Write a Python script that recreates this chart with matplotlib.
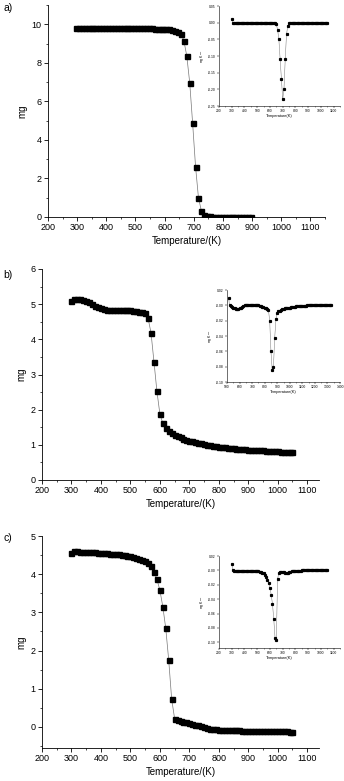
import matplotlib
matplotlib.use("Agg")
import matplotlib.pyplot as plt
from matplotlib.ticker import MultipleLocator, FormatStrFormatter

plt.rcParams['font.family'] = ['Liberation Sans', 'DejaVu Sans']

# ---- data ----
# a) main TG curve
temp_a = list(range(296, 897, 10))
mass_a = [9.80, 9.82, 9.83, 9.83, 9.83, 9.83, 9.83, 9.83, 9.83, 9.82,
          9.82, 9.82, 9.82, 9.82, 9.82, 9.81, 9.81, 9.81, 9.81, 9.81,
          9.80, 9.80, 9.80, 9.80, 9.79, 9.79, 9.79, 9.78, 9.78, 9.77,
          9.76, 9.75, 9.73, 9.71, 9.67, 9.61, 9.50, 9.15, 8.35, 6.97,
          4.87, 2.62, 1.00, 0.32, 0.12, 0.05, 0.03, 0.02, 0.01, 0.01,
          0.00, 0.00, 0.00, -0.01, -0.01, -0.01, -0.01, -0.02, -0.02, -0.02,
          -0.02]
# a) inset DTG
dtemp_a = list(range(300, 1051, 10))
dtg_a = [0.010, 0.000, 0.000, 0.000, 0.000, 0.000, 0.000, 0.000, 0.000, 0.000,
         0.000, 0.000, 0.000, 0.000, 0.000, 0.000, 0.000, 0.000, 0.000, 0.000,
         0.000, 0.000, 0.000, 0.000, 0.000, 0.000, 0.000, 0.000, 0.000, 0.000,
         0.000, 0.000, 0.000, 0.000, -0.002, -0.005, -0.021, -0.050, -0.110, -0.168,
         -0.230, -0.200, -0.110, -0.035, -0.010, -0.002, 0.000, 0.000, 0.000, 0.000,
         0.000, 0.000, 0.000, 0.000, 0.000, 0.000, 0.000, 0.000, 0.000, 0.000,
         0.000, 0.000, 0.000, 0.000, 0.000, 0.000, 0.000, 0.000, 0.000, 0.000,
         0.000, 0.000, 0.000, 0.000, 0.000, 0.000]

# b) main TG curve
temp_b = list(range(300, 1051, 10))
mass_b = [5.10, 5.15, 5.16, 5.15, 5.13, 5.10, 5.06, 5.01, 4.96, 4.92,
          4.88, 4.85, 4.83, 4.82, 4.82, 4.82, 4.82, 4.82, 4.82, 4.82,
          4.82, 4.81, 4.80, 4.79, 4.77, 4.74, 4.60, 4.18, 3.36, 2.52,
          1.88, 1.61, 1.48, 1.40, 1.34, 1.29, 1.25, 1.21, 1.18, 1.15,
          1.12, 1.10, 1.08, 1.06, 1.04, 1.02, 1.00, 0.99, 0.97, 0.96,
          0.95, 0.94, 0.93, 0.92, 0.91, 0.90, 0.89, 0.88, 0.88, 0.87,
          0.86, 0.86, 0.85, 0.85, 0.84, 0.84, 0.83, 0.83, 0.82, 0.82,
          0.82, 0.81, 0.81, 0.81, 0.80, 0.80]
# b) inset DTG
dtemp_b = [513] + list(range(520, 1331, 10))
dtg_b = [0.0096,
         0.000, -0.001, -0.002, -0.003, -0.004, -0.005, -0.005, -0.005, -0.004, -0.003,
         -0.002, -0.001, 0.000, 0.000, 0.000, 0.000, 0.000, 0.000, 0.000, 0.000,
         0.000, 0.000, 0.000, 0.000, -0.001, -0.001, -0.002, -0.002, -0.003, -0.004,
         -0.005, -0.006, -0.020, -0.060, -0.084, -0.080, -0.042, -0.018, -0.010, -0.008,
         -0.007, -0.006, -0.005, -0.005, -0.004, -0.004, -0.003, -0.003, -0.003, -0.002,
         -0.002, -0.002, -0.002, -0.001, -0.001, -0.001, -0.001, -0.001, -0.001, -0.001,
         -0.001, -0.001, 0.000, 0.000, 0.000, 0.000, 0.000, 0.000, 0.000, 0.000,
         0.000, 0.000, 0.000, 0.000, 0.000, 0.000, 0.000, 0.000, 0.000, 0.000,
         0.000, 0.000]

# c) main TG curve
temp_c = list(range(300, 1051, 10))
mass_c = [4.55, 4.60, 4.60, 4.59, 4.59, 4.58, 4.58, 4.57, 4.57, 4.56,
          4.56, 4.55, 4.55, 4.54, 4.53, 4.53, 4.52, 4.51, 4.50, 4.48,
          4.47, 4.45, 4.43, 4.41, 4.38, 4.34, 4.29, 4.21, 4.06, 3.87,
          3.58, 3.15, 2.58, 1.75, 0.73, 0.22, 0.17, 0.15, 0.13, 0.12,
          0.10, 0.08, 0.06, 0.04, 0.02, 0.00, -0.02, -0.04, -0.05, -0.06,
          -0.07, -0.07, -0.08, -0.08, -0.09, -0.09, -0.09, -0.09, -0.10, -0.10,
          -0.10, -0.10, -0.10, -0.10, -0.10, -0.10, -0.10, -0.11, -0.11, -0.11,
          -0.11, -0.11, -0.11, -0.11, -0.12, -0.12]
# c) inset DTG
dtemp_c = list(range(300, 1051, 10))
dtg_c = [0.009, 0.000, -0.001, -0.001, -0.001, -0.001, -0.001, -0.001, -0.001, -0.001,
         -0.001, -0.001, -0.001, -0.001, -0.001, -0.001, -0.001, -0.001, -0.001, -0.001,
         -0.001, -0.001, -0.002, -0.002, -0.003, -0.004, -0.006, -0.009, -0.013, -0.017,
         -0.024, -0.034, -0.047, -0.068, -0.094, -0.097, -0.012, -0.003, -0.002, -0.002,
         -0.002, -0.002, -0.003, -0.004, -0.003, -0.002, -0.002, -0.001, -0.001, -0.001,
         -0.001, -0.001, -0.001, -0.001, -0.001, 0.000, 0.000, 0.000, 0.000, 0.000,
         0.000, 0.000, 0.000, 0.000, 0.000, 0.000, 0.000, 0.000, 0.000, 0.000,
         0.000, 0.000, 0.000, 0.000, 0.000, 0.000]

W, H = 344, 781
fig = plt.figure(figsize=(W / 100, H / 100), dpi=100)


def rect(l, t, r, b):
    # pixel box -> figure fraction
    return [l / W, 1 - b / H, (r - l) / W, (b - t) / H]


def style(ax, fs, tl):
    for s in ['top', 'right']:
        ax.spines[s].set_visible(False)
    for s in ['left', 'bottom']:
        ax.spines[s].set_linewidth(0.6)
    ax.tick_params(which='major', direction='out', length=tl, width=0.6, labelsize=fs, pad=1.5)
    ax.tick_params(which='minor', direction='out', length=tl * 0.55, width=0.5)


def main_panel(box, x, y, ylim, ymaj, xlim, tag, tag_y):
    ax = fig.add_axes(rect(*box))
    ax.plot(x, y, color='#777777', lw=0.5, marker='s', ms=3.6,
            mfc='black', mec='black', zorder=3)
    ax.set_xlim(*xlim)
    ax.set_ylim(*ylim)
    ax.xaxis.set_major_locator(MultipleLocator(100))
    ax.xaxis.set_minor_locator(MultipleLocator(50))
    ax.yaxis.set_major_locator(MultipleLocator(ymaj))
    ax.yaxis.set_minor_locator(MultipleLocator(ymaj / 2))
    style(ax, 6.5, 3)
    ax.set_xlabel("Temperature/(K)", fontsize=7, labelpad=3)
    ax.set_ylabel("mg", fontsize=7, labelpad=3)
    fig.text(3 / W, 1 - tag_y / H, tag, fontsize=7.5, va='center', ha='left')
    return ax


def inset(box, x, y, xlim, ylim, ymaj, xticks):
    ax = fig.add_axes(rect(*box))
    ax.plot(x, y, color='#777777', lw=0.35, marker='s', ms=1.3,
            mfc='black', mec='black', zorder=3)
    ax.set_xlim(*xlim)
    ax.set_ylim(*ylim)
    ax.set_xticks(xticks)
    ax.xaxis.set_minor_locator(MultipleLocator(50))
    ax.yaxis.set_major_locator(MultipleLocator(ymaj))
    ax.yaxis.set_major_formatter(FormatStrFormatter('%.2f'))
    style(ax, 2.4, 1.2)
    ax.spines['left'].set_linewidth(0.4)
    ax.spines['bottom'].set_linewidth(0.4)
    ax.tick_params(which='both', width=0.35, pad=1)
    ax.set_xlabel("Temperature(K)", fontsize=2.8, labelpad=1)
    ax.set_ylabel("mg K$^{-1}$", fontsize=2.5, labelpad=1)
    return ax


# panel a
main_panel((48, 5, 325, 217), temp_a, mass_a, (0, 11), 2, (200, 1150), "a)", 8)
inset((219, 6, 340, 106), dtemp_a, dtg_a, (200, 1150), (-0.25, 0.05), 0.05,
      list(range(200, 1101, 100)))

# panel b
main_panel((42, 269, 319, 480), temp_b, mass_b, (0, 6), 1, (200, 1140), "b)", 275)
inset((227, 290, 340, 382), dtemp_b, dtg_b, (500, 1400), (-0.10, 0.02), 0.02,
      list(range(500, 1401, 100)))

# panel c
main_panel((42, 536, 319, 748), temp_c, mass_c, (-0.55, 5), 1, (200, 1140), "c)", 538)
inset((219, 556, 340, 648), dtemp_c, dtg_c, (200, 1150), (-0.108, 0.02), 0.02,
      list(range(200, 1101, 100)))

fig.savefig("out.png", dpi=100)
